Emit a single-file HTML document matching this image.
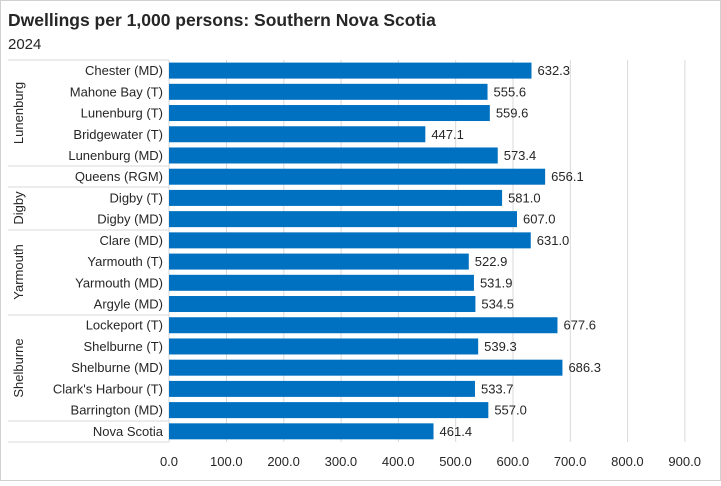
<!DOCTYPE html>
<html><head><meta charset="utf-8"><style>
body{margin:0;background:#fff}
svg text{font-family:"Liberation Sans",sans-serif;fill:#262626}
</style></head><body>
<svg width="721" height="481" xmlns="http://www.w3.org/2000/svg">
<rect x="0.5" y="0.5" width="720" height="480" fill="#fff" stroke="#d0d0d0"/>
<text x="8" y="26" font-size="17.5" font-weight="bold" fill="#000">Dwellings per 1,000 persons: Southern Nova Scotia</text>
<text x="8" y="49" font-size="15">2024</text>
<g stroke="#d9d9d9" stroke-width="1">
<line x1="226.5" y1="60" x2="226.5" y2="442"/><line x1="283.8" y1="60" x2="283.8" y2="442"/>
<line x1="341.1" y1="60" x2="341.1" y2="442"/><line x1="398.4" y1="60" x2="398.4" y2="442"/>
<line x1="455.7" y1="60" x2="455.7" y2="442"/><line x1="513" y1="60" x2="513" y2="442"/>
<line x1="570.3" y1="60" x2="570.3" y2="442"/><line x1="627.6" y1="60" x2="627.6" y2="442"/>
<line x1="684.9" y1="60" x2="684.9" y2="442"/>
<line x1="169" y1="60" x2="169" y2="442"/>
<line x1="8" y1="60" x2="169" y2="60"/><line x1="8" y1="166" x2="169" y2="166"/>
<line x1="8" y1="187" x2="169" y2="187"/><line x1="8" y1="230" x2="169" y2="230"/>
<line x1="8" y1="315" x2="169" y2="315"/><line x1="8" y1="421" x2="169" y2="421"/>
<line x1="8" y1="442" x2="169" y2="442"/>
</g>
<g fill="#0070c0" id="bars"></g>
<g font-size="13" text-anchor="end" id="labs"></g>
<g font-size="13" id="vals"></g>
<g font-size="13" text-anchor="middle">
<text x="169" y="466">0.0</text><text x="226.3" y="466">100.0</text><text x="283.6" y="466">200.0</text>
<text x="340.9" y="466">300.0</text><text x="398.2" y="466">400.0</text><text x="455.5" y="466">500.0</text>
<text x="512.8" y="466">600.0</text><text x="570.1" y="466">700.0</text><text x="627.4" y="466">800.0</text>
<text x="684.7" y="466">900.0</text>
</g>
<g font-size="13" text-anchor="middle">
<text transform="translate(23,113) rotate(-90)">Lunenburg</text>
<text transform="translate(23,208) rotate(-90)">Digby</text>
<text transform="translate(23,272) rotate(-90)">Yarmouth</text>
<text transform="translate(23,368) rotate(-90)">Shelburne</text>
</g>
<g id="all"></g>
</svg>
<script>
var d=[["Chester (MD)",632.3],["Mahone Bay (T)",555.6],["Lunenburg (T)",559.6],["Bridgewater (T)",447.1],["Lunenburg (MD)",573.4],["Queens (RGM)",656.1],["Digby (T)",581.0],["Digby (MD)",607.0],["Clare (MD)",631.0],["Yarmouth (T)",522.9],["Yarmouth (MD)",531.9],["Argyle (MD)",534.5],["Lockeport (T)",677.6],["Shelburne (T)",539.3],["Shelburne (MD)",686.3],["Clark's Harbour (T)",533.7],["Barrington (MD)",557.0],["Nova Scotia",461.4]];
var ns="http://www.w3.org/2000/svg",b=document.getElementById("bars"),l=document.getElementById("labs"),v=document.getElementById("vals");
d.forEach(function(r,i){var c=60+21.22*i+10.6,w=r[1]*0.5733;
var e=document.createElementNS(ns,"rect");e.setAttribute("x",169);e.setAttribute("y",c-8);e.setAttribute("width",w);e.setAttribute("height",16);b.appendChild(e);
var t=document.createElementNS(ns,"text");t.setAttribute("x",163);t.setAttribute("y",c+4.5);t.textContent=r[0];l.appendChild(t);
var u=document.createElementNS(ns,"text");u.setAttribute("x",169+w+6);u.setAttribute("y",c+4.5);u.textContent=r[1].toFixed(1);v.appendChild(u);});
</script>
</body></html>
